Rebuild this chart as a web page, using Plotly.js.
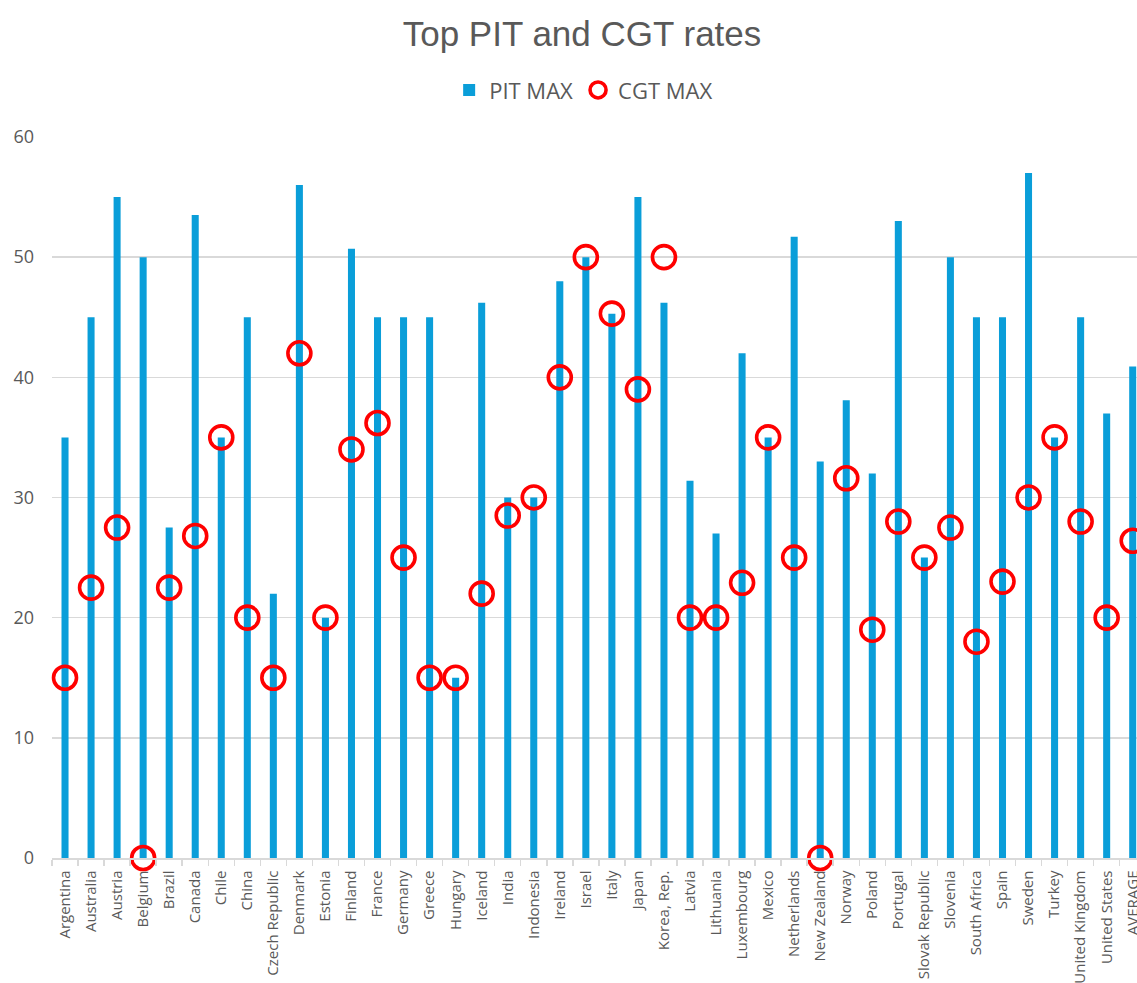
<!DOCTYPE html>
<html>
<head>
<meta charset="utf-8">
<script src="https://cdn.plot.ly/plotly-3.0.1.min.js"></script>
<style>html,body{margin:0;padding:0;background:#fff;overflow:hidden;}#chart{width:1137px;height:983px;}</style>
</head>
<body>
<div id="chart"></div>
<script>
const categories = ["Argentina","Australia","Austria","Belgium","Brazil","Canada","Chile","China","Czech Republic","Denmark","Estonia","Finland","France","Germany","Greece","Hungary","Iceland","India","Indonesia","Ireland","Israel","Italy","Japan","Korea, Rep.","Latvia","Lithuania","Luxembourg","Mexico","Netherlands","New Zealand","Norway","Poland","Portugal","Slovak Republic","Slovenia","South Africa","Spain","Sweden","Turkey","United Kingdom","United States","AVERAGE"];
const pitMax = [35,45,55,50,27.5,53.5,35,45,22,56,20,50.7,45,45,45,15,46.2,30,30,48,50,45.3,55,46.2,31.4,27,42,35,51.7,33,38.1,32,53,25,50,45,45,57,35,45,37,40.9];
const cgtMax = [15,22.5,27.5,0,22.5,26.8,35,20,15,42,20,34,36.2,25,15,15,22,28.5,30,40,50,45.3,39,50,20,20,22.9,35,25,0,31.6,19,28,25,27.5,18,23,30,35,28,20,26.4];
const seriesNames = ["PIT MAX","CGT MAX"];
const yTicks = [0,10,20,30,40,50,60];

const textColor = '#595959';
const gridColor = '#d9d9d9';

const traces = [
  {
    type: 'bar', name: seriesNames[0], x: categories, y: pitMax,
    width: 0.27,
    marker: {color: '#0a9ed9', line: {width: 0}},
    hoverinfo: 'x+y'
  },
  {
    type: 'scatter', mode: 'markers', name: seriesNames[1], x: categories, y: cgtMax,
    cliponaxis: false,
    marker: {symbol: 'circle-open', size: 23, color: '#ff0000', line: {width: 3.6, color: '#ff0000'}},
    hoverinfo: 'x+y'
  }
];

const layout = {
  width: 1137, height: 983,
  paper_bgcolor: '#ffffff', plot_bgcolor: '#ffffff',
  margin: {l: 52, r: 0, t: 137, b: 125, autoexpand: false},
  font: {family: '"Open Sans", sans-serif', color: textColor},
  title: {
    text: 'Top PIT and CGT rates',
    font: {family: '"Liberation Sans", Arial, sans-serif', size: 35, color: textColor},
    xref: 'paper', x: 0.4885, xanchor: 'center',
    yref: 'container', y: 0.966, yanchor: 'middle'
  },
  showlegend: true,
  legend: {
    orientation: 'h', xref: 'paper', x: 0.49, xanchor: 'center',
    yref: 'paper', y: 1.065, yanchor: 'middle',
    font: {size: 22, color: textColor}, itemwidth: 30, tracegroupgap: 0,
    bgcolor: 'rgba(0,0,0,0)'
  },
  xaxis: {
    type: 'category', range: [-0.5, 41.165], fixedrange: true,
    showgrid: false, zeroline: false,
    showline: true, linecolor: gridColor, linewidth: 1.5,
    ticks: 'outside', tickson: 'boundaries', ticklen: 6, tickwidth: 1.5, tickcolor: gridColor,
    tickangle: -90, tickfont: {size: 15, color: textColor},
    ticklabelstandoff: 5
  },
  yaxis: {
    range: [0, 60], tickvals: yTicks, ticktext: yTicks.map(String),
    showgrid: true, gridcolor: gridColor, gridwidth: 1.5,
    zeroline: false, showline: false, ticks: '',
    tickfont: {size: 18, color: textColor},
    ticklabelstandoff: 17
  },
  bargap: 0.73
};

Plotly.newPlot('chart', traces, layout, {displayModeBar: false, staticPlot: true});
</script>
</body>
</html>
